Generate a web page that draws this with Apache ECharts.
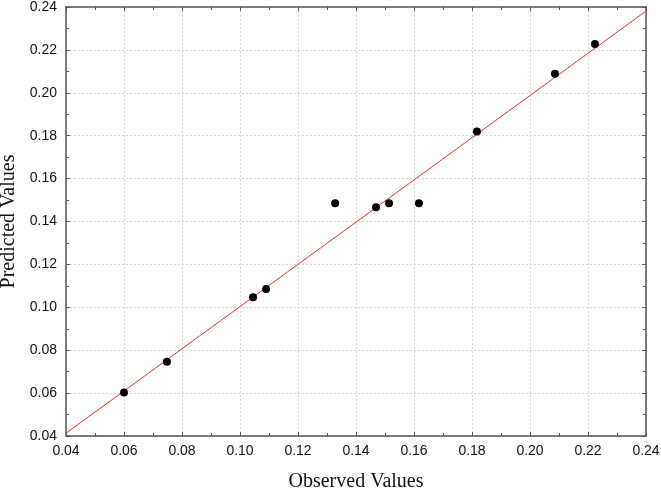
<!DOCTYPE html>
<html>
<head>
<meta charset="utf-8">
<script src="https://cdn.jsdelivr.net/npm/echarts@6/dist/echarts.min.js"></script>
<style>
  html, body { margin: 0; padding: 0; background: #fff; }
  #chart { width: 661px; height: 490px; }
</style>
</head>
<body>
<div id="chart"></div>
<script>
// observed vs predicted
const observed = [0.060, 0.0748, 0.1045, 0.109, 0.1328, 0.1469, 0.1514, 0.1617, 0.1817, 0.2086, 0.2224];
const predicted = [0.0603, 0.0746, 0.1047, 0.1085, 0.1485, 0.1466, 0.1485, 0.1485, 0.1820, 0.2089, 0.2228];
// fitted line end points
const fitX = [0.04, 0.24];
const fitY = [0.0413, 0.2381];

const chart = echarts.init(document.getElementById("chart"));

const axisColor = "#555";
const labelFont = { fontFamily: "Liberation Sans", fontSize: 14, color: "#111" };
const nameFont = { fontFamily: "Liberation Serif", fontSize: 20, color: "#111" };

function baseAxis(extra) {
  return Object.assign({
    type: "value",
    min: 0.04,
    max: 0.24,
    interval: 0.02,
    axisLine: { show: true, onZero: false, lineStyle: { color: axisColor, width: 1.5 } },
    axisTick: { show: true, inside: true, length: 4, lineStyle: { color: axisColor } },
    minorTick: { show: true, splitNumber: 2, length: 3, lineStyle: { color: axisColor } },
    splitLine: { show: false },
  }, extra);
}

chart.setOption({
  animation: false,
  grid: { left: 66, right: 15, top: 7, bottom: 54, outerBoundsMode: "none", containLabel: false },
  xAxis: [
    baseAxis({
      position: "bottom",
      name: "Observed Values",
      nameLocation: "middle",
      nameGap: 36,
      nameTextStyle: nameFont,
      axisLabel: Object.assign({ margin: 8, formatter: (v) => v.toFixed(2) }, labelFont),
      splitLine: { show: true, lineStyle: { color: "#d8d8d8", type: [2, 2] } },
    }),
    baseAxis({ position: "top", axisLabel: { show: false } }),
  ],
  yAxis: [
    baseAxis({
      position: "left",
      name: "Predicted Values",
      nameLocation: "middle",
      nameGap: 41,
      nameTextStyle: nameFont,
      axisLabel: Object.assign({ margin: 9, formatter: (v) => v.toFixed(2) }, labelFont),
      splitLine: { show: true, lineStyle: { color: "#d8d8d8", type: [2, 2] } },
    }),
    baseAxis({ position: "right", axisLabel: { show: false } }),
  ],
  series: [
    {
      type: "line",
      data: fitX.map((x, i) => [x, fitY[i]]),
      symbol: "none",
      lineStyle: { color: "#f03030", width: 1 },
      z: 2,
    },
    {
      type: "scatter",
      data: observed.map((x, i) => [x, predicted[i]]),
      symbol: "circle",
      symbolSize: 8,
      itemStyle: { color: "#000", opacity: 1 },
      z: 3,
    },
  ],
});

window.addEventListener("resize", () => chart && chart.resize());
</script>
</body>
</html>
